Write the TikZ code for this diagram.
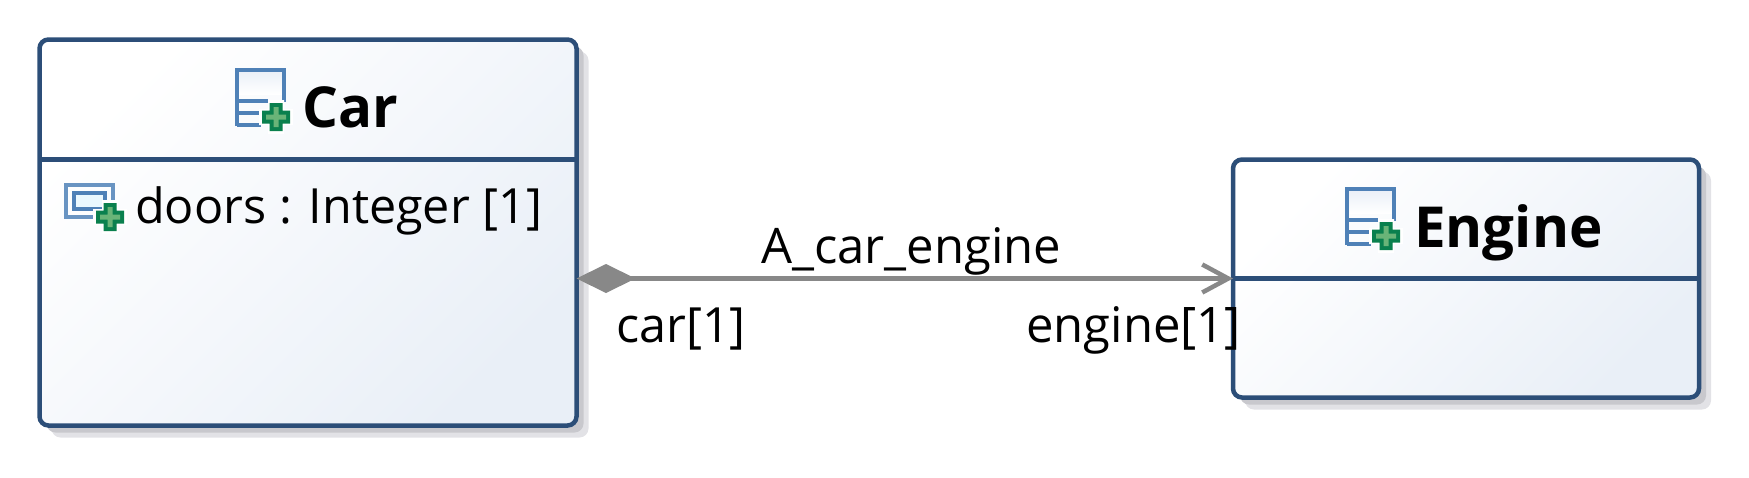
\documentclass[tikz,border=0pt]{standalone}
\usepackage{fontspec}
\setmainfont{Open Sans}
\usetikzlibrary{arrows.meta, shadows}

\definecolor{boxblue}{RGB}{44,78,120}
\definecolor{boxfill}{RGB}{233,239,247}
\definecolor{assocgrey}{RGB}{136,136,136}
\definecolor{shadowdark}{RGB}{200,200,205}
\definecolor{shadowlight}{RGB}{226,226,230}
\definecolor{iconblue}{RGB}{79,129,183}
\definecolor{plusgreen}{RGB}{10,128,78}
\definecolor{pluslight}{RGB}{105,180,120}

\tikzset{
	classbox/.style={draw=boxblue, line width=4.5pt, rounded corners=9pt, inner sep=0pt, outer sep=0pt,
		top color=white, bottom color=boxfill, shading angle=45,
		drop shadow={shadow xshift=12pt, shadow yshift=-12pt, opacity=1, fill=shadowlight},
		drop shadow={shadow xshift=7pt, shadow yshift=-7pt, opacity=1, fill=shadowdark}},
	divider/.style={draw=boxblue, line width=4.5pt},
	assoc/.style={draw=assocgrey, line width=4.5pt},
	title/.style={anchor=base west, inner sep=0pt, font=\fontsize{56.5}{66}\selectfont\bfseries},
	label/.style={anchor=base west, inner sep=0pt, font=\fontsize{49}{58}\selectfont},
	pics/plus/.style={code={
		\fill[white] (-17,-8) rectangle (17,8) (-8,-17) rectangle (8,17);
		\fill[plusgreen] (-14,-6.5) rectangle (14,6.5) (-6.5,-14) rectangle (6.5,14);
		\fill[pluslight] (-10,-2.5) rectangle (10,2.5) (-2.5,-10) rectangle (2.5,10);
	}},
	pics/classicon/.style={code={
		\fill[top color=boxfill, bottom color=white] (2,-2) rectangle (47,-26);
		\draw[iconblue, line width=4pt] (2,-58) -- (2,-2) -- (49,-2) -- (49,-34);
		\draw[iconblue, line width=4pt] (2,-33) -- (33,-33) (2,-45) -- (26,-45) (2,-57) -- (26,-57);
		\pic at (41,-49) {plus};
	}},
	pics/propicon/.style={code={
		\draw[iconblue!85!white, line width=4pt] (2,-2) rectangle (49,-34);
		\draw[iconblue, line width=4pt] (10,-10) rectangle (41,-26);
		\fill[cyan!8] (12,-12) rectangle (39,-24);
		\pic at (46,-34) {plus};
	}},
}

\begin{document}
\begin{tikzpicture}[x=1pt, y=1pt]
	\useasboundingbox (0,0) rectangle (1749,-477);
	% class boxes
	\node[classbox, minimum width=537pt, minimum height=386pt] (car) at (308,-232.5) {};
	\node[classbox, minimum width=466pt, minimum height=238pt] (engine) at (1466,-278.5) {};
	% compartments
	\draw[divider] (car.west |- 0,-159.5) -- (car.east |- 0,-159.5);
	\draw[divider] (engine.west) -- (engine.east);
	% association
	\draw[assoc, {Diamond[length=59pt, width=29pt, fill=assocgrey]}-{Straight Barb[length=26pt, width=28pt]}]
		(car.east |- engine.west) -- (engine.west);
	% icons
	\pic at (235,-68) {classicon};
	\pic at (1345,-187) {classicon};
	\pic at (64,-183) {propicon};
	% texts
	\node[title] (carname) at (302,-127) {Car};
	\node[title] (enginename) at (1414,-247) {Engine};
	\node[label, font=\fontsize{48.5}{58}\selectfont] (doors) at (135,-223) {doors : Integer [1]};
	\node[label] (assocname) at (761,-263) {A\_car\_engine};
	\node[label, font=\fontsize{48.5}{58}\selectfont] (carend) at (616,-342) {car[1]};
	\node[label] (engineend) at (1026,-342) {engine[1]};
\end{tikzpicture}
\end{document}
